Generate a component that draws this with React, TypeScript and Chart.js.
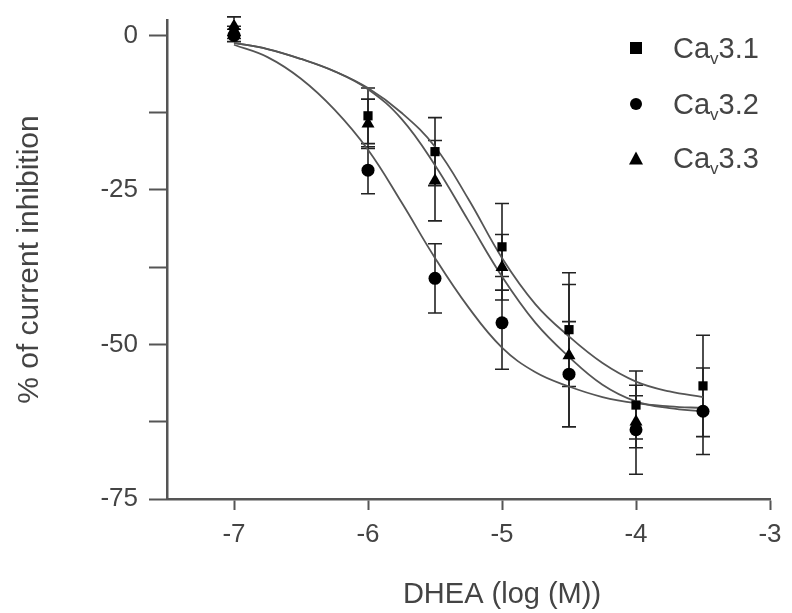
import React, { useEffect, useRef } from "react";
import { Chart, registerables } from "chart.js";

Chart.register(...registerables);

// ---- data ----
const doseCav31 = [-7, -6, -5.5, -5, -4.5, -4, -3.5];
const meanCav31 = [0.5, -13, -18.8, -34.2, -47.6, -59.8, -56.7];
const semCav31 = [1, 4.5, 5.5, 7, 9.2, 5.5, 8.2];

const doseCav32 = [-7, -6, -5.5, -5, -4.5, -4, -3.5];
const meanCav32 = [0, -21.8, -39.3, -46.5, -54.8, -63.8, -60.8];
const semCav32 = [1, 3.8, 5.6, 7.5, 8.5, 7.2, 7];

const doseCav33 = [-7, -6, -5.5, -5, -4.5, -4];
const meanCav33 = [1.5, -14.3, -23.5, -37.5, -51.8, -62.5];
const semCav33 = [1.5, 4, 6.5, 5.3, 11.5, 4.2];

// fitted curves
const curveDose = [-7, -6.75, -6.5, -6.25, -6, -5.75, -5.5, -5.25, -5, -4.75, -4.5, -4.25, -4, -3.75, -3.5];
const curveCav31 = [-1.2, -2.2, -3.8, -5.8, -8.5, -12.5, -18, -26.5, -36, -43.5, -48.7, -53, -56, -57.6, -58.5];
const curveCav32 = [-1.5, -3.5, -7, -12, -18.5, -27, -36, -44, -50.5, -54.5, -56.8, -58.5, -59.5, -60, -60.3];
const curveCav33 = [-1.2, -2.2, -3.8, -5.8, -8.7, -13.5, -21, -30, -39, -46.5, -52, -56.5, -59.2, -60.3, -60.8];

const seriesNames = ["Cav3.1", "Cav3.2", "Cav3.3"];
const xTickValues = [-7, -6, -5, -4, -3];
const yTickValues = [-75, -62.5, -50, -37.5, -25, -12.5, 0];
const yLabeledTicks = [0, -25, -50, -75];
const xTitle = "DHEA (log (M))";
const yTitle = "% of current inhibition";

const FONT = "'Liberation Sans', Arial, sans-serif";
const AXIS = "#555";
const TEXT = "#444";

const pts = (xs: number[], ys: number[]) => xs.map((x, i) => ({ x, y: ys[i] }));

const errorBars = [
  { dose: doseCav31, mean: meanCav31, sem: semCav31 },
  { dose: doseCav32, mean: meanCav32, sem: semCav32 },
  { dose: doseCav33, mean: meanCav33, sem: semCav33 },
];

const errorBarPlugin = {
  id: "errorBars",
  beforeDatasetsDraw(chart: any) {
    const { ctx, scales } = chart;
    const xs = scales.x, ys = scales.y;
    ctx.save();
    ctx.strokeStyle = "#222";
    ctx.lineWidth = 1.6;
    for (const s of errorBars) {
      s.dose.forEach((d, i) => {
        const px = xs.getPixelForValue(d);
        const top = ys.getPixelForValue(s.mean[i] + s.sem[i]);
        const bot = ys.getPixelForValue(s.mean[i] - s.sem[i]);
        ctx.beginPath();
        ctx.moveTo(px, top);
        ctx.lineTo(px, bot);
        ctx.moveTo(px - 7, top);
        ctx.lineTo(px + 7, top);
        ctx.moveTo(px - 7, bot);
        ctx.lineTo(px + 7, bot);
        ctx.stroke();
      });
    }
    ctx.restore();
  },
};

const xTitlePlugin = {
  id: "xTitle",
  afterDraw(chart: any) {
    const { ctx, scales } = chart;
    ctx.save();
    ctx.font = `29px ${FONT}`;
    ctx.fillStyle = TEXT;
    ctx.textAlign = "center";
    ctx.textBaseline = "alphabetic";
    ctx.fillText(xTitle, scales.x.getPixelForValue(-5), 603);
    ctx.restore();
  },
};

function LegendMarker({ kind }: { kind: string }) {
  if (kind === "square")
    return <div style={{ width: 12, height: 12, background: "#000" }} />;
  if (kind === "circle")
    return <div style={{ width: 12, height: 12, background: "#000", borderRadius: "50%" }} />;
  return (
    <div
      style={{
        width: 0,
        height: 0,
        borderLeft: "7px solid transparent",
        borderRight: "7px solid transparent",
        borderBottom: "13px solid #000",
      }}
    />
  );
}

export default function App() {
  const ref = useRef<HTMLCanvasElement | null>(null);

  useEffect(() => {
    if (!ref.current) return;
    const lineDs = (data: number[]) => ({
      type: "line" as const,
      data: pts(curveDose, data),
      borderColor: "#555",
      borderWidth: 1.8,
      pointRadius: 0,
      tension: 0.4,
      fill: false,
      order: 2,
      showLine: true,
    });
    const ptDs = (label: string, xs: number[], ys: number[], style: string, r: number) => ({
      type: "scatter" as const,
      label,
      data: pts(xs, ys),
      pointStyle: style,
      pointRadius: r,
      backgroundColor: "#000",
      borderColor: "#000",
      borderWidth: 0,
      order: 0,
    });
    const chart = new Chart(ref.current, {
      type: "scatter",
      data: {
        datasets: [
          lineDs(curveCav31),
          lineDs(curveCav32),
          lineDs(curveCav33),
          ptDs(seriesNames[0], doseCav31, meanCav31, "rect", 6.5),
          ptDs(seriesNames[1], doseCav32, meanCav32, "circle", 6.5),
          ptDs(seriesNames[2], doseCav33, meanCav33, "triangle", 7.5),
        ] as any,
      },
      plugins: [errorBarPlugin, xTitlePlugin],
      options: {
        animation: false,
        responsive: false,
        devicePixelRatio: 1,
        layout: { padding: { top: 20, right: 22, bottom: 0, left: 0 } },
        plugins: { legend: { display: false }, tooltip: { enabled: false } },
        scales: {
          x: {
            type: "linear",
            min: -7.5,
            max: -3,
            afterBuildTicks: (s: any) => {
              s.ticks = xTickValues.map((v) => ({ value: v }));
            },
            afterFit: (s: any) => {
              s.height = 114;
              s.paddingLeft = 0;
              s.paddingRight = 0;
            },
            grid: {
              drawOnChartArea: false,
              drawTicks: true,
              tickLength: 11,
              tickWidth: 2,
              tickColor: AXIS,
            },
            border: { display: true, color: AXIS, width: 2.5 },
            ticks: {
              padding: 9,
              color: TEXT,
              font: { family: FONT, size: 26 },
              callback: (v: any) => String(v),
            },
            title: { display: false },
          },
          y: {
            type: "linear",
            min: -75,
            max: 2.5,
            afterBuildTicks: (s: any) => {
              s.ticks = yTickValues.map((v) => ({ value: v }));
            },
            afterFit: (s: any) => {
              s.width = 167;
              s.paddingTop = 0;
              s.paddingBottom = 0;
            },
            grid: {
              drawOnChartArea: false,
              drawTicks: true,
              tickLength: 18,
              tickWidth: 2,
              tickColor: AXIS,
            },
            border: { display: true, color: AXIS, width: 2.5 },
            ticks: {
              padding: 11,
              color: TEXT,
              font: { family: FONT, size: 26 },
              callback: (v: any) => (yLabeledTicks.includes(Number(v)) ? String(v) : ""),
            },
            title: {
              display: true,
              text: yTitle,
              color: TEXT,
              font: { family: FONT, size: 30 },
              padding: { top: 12, bottom: 0 },
            },
          },
        },
      } as any,
    });
    return () => chart.destroy();
  }, []);

  const legendRows = [
    { name: seriesNames[0], kind: "square", y: 48 },
    { name: seriesNames[1], kind: "circle", y: 104 },
    { name: seriesNames[2], kind: "triangle", y: 158 },
  ];

  return (
    <div style={{ position: "absolute", left: 0, top: 0, width: 792, height: 613, background: "#fff" }}>
      <canvas ref={ref} width={792} height={613} style={{ display: "block" }} />
      {legendRows.map((r) => (
        <div key={r.name} style={{ position: "absolute", left: 0, top: r.y, width: 792 }}>
          <div style={{ position: "absolute", left: 636, top: 0, transform: "translate(-50%, -50%)" }}>
            <LegendMarker kind={r.kind} />
          </div>
          <div
            style={{
              position: "absolute",
              left: 673,
              top: 0,
              transform: "translateY(-50%)",
              fontFamily: FONT,
              fontSize: 29,
              color: TEXT,
              lineHeight: "34px",
              whiteSpace: "nowrap",
            }}
          >
            Ca<sub style={{ fontSize: 17, verticalAlign: "-6px", lineHeight: 0 }}>v</sub>
            {r.name.slice(3)}
          </div>
        </div>
      ))}
    </div>
  );
}
